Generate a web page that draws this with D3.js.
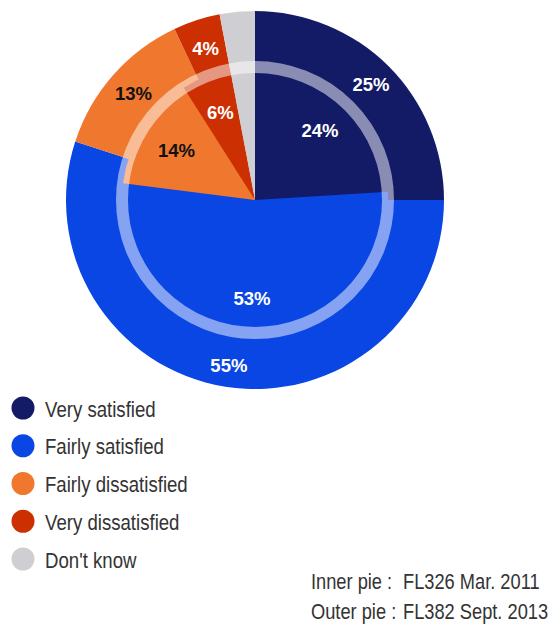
<!DOCTYPE html>
<html>
<head>
<meta charset="utf-8">
<script src="https://cdn.jsdelivr.net/npm/d3@7"></script>
<style>
  html, body { margin: 0; padding: 0; background: #fff; }
  svg { display: block; }
</style>
</head>
<body>
<svg id="chart" width="554" height="628"></svg>
<script>
// Satisfaction survey: two waves shown as nested pies
const categories = ["Very satisfied", "Fairly satisfied", "Fairly dissatisfied", "Very dissatisfied", "Don't know"];
const outerValues = [25, 55, 13, 4, 3];   // FL382 Sept. 2013
const innerValues = [24, 53, 14, 6, 3];   // FL326 Mar. 2011
const shownLabels = [true, true, true, true, false];
const colors = ["#131a66", "#0a46e4", "#f0782e", "#cc2f02", "#cfcfd3"];
const labelColors = ["#ffffff", "#ffffff", "#111111", "#ffffff", "#111111"];
const footnotes = [["Inner pie :", "FL326 Mar. 2011"], ["Outer pie :", "FL382 Sept. 2013"]];

const svg = d3.select("#chart");
const cx = 255, cy = 200;
const rOuter = 189, rInner = 133, ringWidth = 12;

const pie = d3.pie().sort(null).value(d => d);
const color = d3.scaleOrdinal().domain(categories).range(colors);

const g = svg.append("g").attr("transform", `translate(${cx},${cy})`);

const outerArc = d3.arc().innerRadius(0).outerRadius(rOuter);
const innerArc = d3.arc().innerRadius(0).outerRadius(rInner);

const outerData = pie(outerValues).map((d, i) => ({...d, cat: categories[i], i}));
const innerData = pie(innerValues).map((d, i) => ({...d, cat: categories[i], i}));

g.selectAll("path.outer").data(outerData).join("path")
  .attr("class", "outer")
  .attr("d", outerArc)
  .attr("fill", d => color(d.cat));

g.selectAll("path.inner").data(innerData).join("path")
  .attr("class", "inner")
  .attr("d", innerArc)
  .attr("fill", d => color(d.cat));

// translucent separating ring
g.append("circle")
  .attr("r", rInner)
  .attr("fill", "none")
  .attr("stroke", "#ffffff")
  .attr("stroke-opacity", 0.5)
  .attr("stroke-width", ringWidth);

// percentage labels, placed along each slice's mid-angle
function addLabels(data, cls, rFor) {
  g.selectAll("text." + cls).data(data.filter(d => shownLabels[d.i])).join("text")
    .attr("class", cls)
    .attr("transform", d => {
      const r = rFor(d);
      const a = (d.startAngle + d.endAngle) / 2;
      return `translate(${r * Math.sin(a)},${-r * Math.cos(a)})`;
    })
    .attr("text-anchor", "middle")
    .attr("dy", "0.36em")
    .attr("font-family", "'Liberation Sans', Arial, sans-serif")
    .attr("font-weight", "bold")
    .attr("font-size", 18.5)
    .attr("fill", d => labelColors[d.i])
    .text(d => d.data + "%");
}
addLabels(outerData, "olab", d => [164, 167, 162, 160][d.i]);
addLabels(innerData, "ilab", d => [95, 98, 93, 94][d.i]);

// legend
const legend = svg.append("g");
const legendY = d3.scaleLinear().domain([0, categories.length - 1]).range([408, 559]);
categories.forEach((c, i) => {
  const y = legendY(i);
  legend.append("circle")
    .attr("cx", 23).attr("cy", y).attr("r", 11.5)
    .attr("fill", color(c));
  legend.append("text")
    .attr("transform", `translate(45,${y + 8.5}) scale(0.81,1)`)
    .attr("font-family", "'Liberation Sans', Arial, sans-serif")
    .attr("font-size", 23)
    .attr("fill", "#333333")
    .text(c);
});

// wave notes
footnotes.forEach((pair, i) => {
  const y = 589 + i * 30;
  svg.append("text")
    .attr("transform", `translate(311,${y}) scale(0.83,1)`)
    .attr("font-family", "'Liberation Sans', Arial, sans-serif")
    .attr("font-size", 22)
    .attr("fill", "#333333")
    .text(pair[0]);
  svg.append("text")
    .attr("transform", `translate(403,${y}) scale(0.83,1)`)
    .attr("font-family", "'Liberation Sans', Arial, sans-serif")
    .attr("font-size", 22)
    .attr("fill", "#333333")
    .text(pair[1]);
});
</script>
</body>
</html>
